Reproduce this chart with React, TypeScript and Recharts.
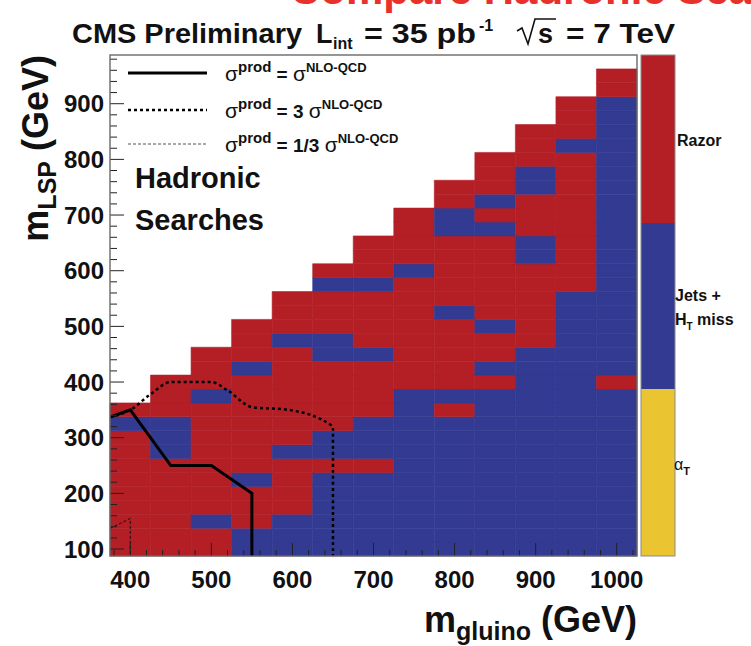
import { ComposedChart, XAxis, YAxis, ReferenceArea, Line } from 'recharts';

// bin centres of the scan
const gluinoMasses = [400, 450, 500, 550, 600, 650, 700, 750, 800, 850, 900, 950, 1000];
const lspMasses = [
  100, 125, 150, 175, 200, 225, 250, 275, 300, 325, 350, 375, 400, 425, 450, 475, 500, 525,
  550, 575, 600, 625, 650, 675, 700, 725, 750, 775, 800, 825, 850, 875, 900, 925, 950,
];

// most sensitive search per bin, one string per gluino column, from m_LSP = 100 upwards
// R = Razor, J = Jets + HT miss
const bestSearch = [
  'RRRRRRRRRJR',
  'RRRRRRRJJJRRR',
  'RRJRRRRRRRRJRRR',
  'JJRRRJRRRRRRRJRRR',
  'JJJRRRRJRRRRRRRJRRR',
  'JJJJJJRJJRRRRRJJRRRJR',
  'JJJJJJRJJJRRRRJRRRRJRRR',
  'JJJJJJJJJJJJRRRRRRRRJRRRR',
  'JJJJJJJJJJRJRRRRRJRRRRRJJRR',
  'JJJJJJJJJJJJRJRRJRRRRRRJRJRRR',
  'JJJJJJJJJJJJJJJRRRRRRJJRRRJJRRR',
  'JJJJJJJJJJJJJJJJJJJRRRRRRRRRRJRRR',
  'JJJJJJJJJJJJRJJJJJJJJJJJJJJJJJJJJRR',
];

// exclusion contours
const nloGluino = [375, 400, 450, 500, 550, 550];
const nloLsp = [337, 350, 250, 250, 200, 87.5];
const threeNloGluino = [375, 400, 425, 450, 500, 520, 550, 595, 650, 650];
const threeNloLsp = [337, 350, 378, 400, 400, 385, 355, 350, 320, 87.5];
const thirdNloGluino = [375, 400, 400];
const thirdNloLsp = [137, 155, 87.5];

const xTicks = Array.from({ length: 33 }, (_, i) => 380 + 20 * i);
const yTicks = Array.from({ length: 45 }, (_, i) => 100 + 20 * i);

const RED = '#b41f26';
const BLUE = '#323a92';
const YELLOW = '#ebc431';
const FONT = '"Liberation Sans", Arial, Helvetica, sans-serif';

const toPoints = (xs: number[], ys: number[]) => xs.map((g, i) => ({ gluino: g, lsp: ys[i] }));

const cells = gluinoMasses.flatMap((g, c) =>
  bestSearch[c].split('').map((s, r) => ({ gluino: g, lsp: lspMasses[r], search: s }))
);

function XTick({ x, y, payload }: any) {
  const major = payload.value % 100 === 0;
  return (
    <g>
      <line x1={x} x2={x} y1={y} y2={y - (major ? 13 : 6)} stroke="#222" strokeWidth={1} />
      {major && (
        <text x={x} y={y + 32} textAnchor="middle" fontSize={24} fontWeight="bold" fontFamily={FONT} fill="#111">
          {payload.value}
        </text>
      )}
    </g>
  );
}

function YTick({ x, y, payload }: any) {
  const major = payload.value % 100 === 0;
  return (
    <g>
      <line x1={x} x2={x + (major ? 14 : 7)} y1={y} y2={y} stroke="#222" strokeWidth={1} />
      {major && (
        <text x={x - 6} y={y + 8.5} textAnchor="end" fontSize={24} fontWeight="bold" fontFamily={FONT} fill="#111">
          {payload.value}
        </text>
      )}
    </g>
  );
}

function Overlay() {
  return (
    <svg
      width={751}
      height={646}
      style={{ position: 'absolute', left: 0, top: 0, pointerEvents: 'none' }}
      fontFamily={FONT}
    >
      {/* slide heading, cut off by the top of the picture */}
      <text x={290} y={4} fontSize={42} fontWeight="bold" fill="#e8302c">
        Compare Hadronic Searches
      </text>

      {/* header */}
      <g fontWeight="bold" fill="#111">
        <text x={72} y={43} fontSize={27} textLength={230} lengthAdjust="spacingAndGlyphs">CMS Preliminary</text>
        <text x={316} y={43} fontSize={27}>L</text>
        <text x={333} y={49} fontSize={16}>int</text>
        <text x={364} y={43} fontSize={27} textLength={112} lengthAdjust="spacingAndGlyphs">= 35 pb</text>
        <text x={479} y={31} fontSize={16}>-1</text>
        <path d="M517 31 L522 28 L528 44 L535 19 L556 19" fill="none" stroke="#111" strokeWidth={1.6} />
        <text x={538} y={43} fontSize={27}>s</text>
        <text x={566} y={43} fontSize={27} textLength={109} lengthAdjust="spacingAndGlyphs">= 7 TeV</text>
      </g>

      {/* frame */}
      <rect x={110} y={55} width={527} height={501} fill="none" stroke="#6a6a6a" strokeWidth={1.4} />

      {/* legend */}
      <line x1={128} x2={207} y1={73} y2={73} stroke="#000" strokeWidth={3} />
      <line x1={128} x2={207} y1={110} y2={110} stroke="#000" strokeWidth={2.5} strokeDasharray="3 3" />
      <line x1={128} x2={207} y1={144} y2={144} stroke="#555" strokeWidth={1} strokeDasharray="3 2" />
      {[
        { y: 81, factor: '' },
        { y: 118, factor: '3 ' },
        { y: 152, factor: '1/3 ' },
      ].map((r) => (
        <text key={r.y} x={225} y={r.y} fill="#111" fontSize={19} fontWeight="bold">
          <tspan fontWeight="normal" fontSize={21}>σ</tspan>
          <tspan dy={-9} fontSize={15}>prod</tspan>
          <tspan dy={9}> = {r.factor}</tspan>
          <tspan fontWeight="normal" fontSize={21}>σ</tspan>
          <tspan dy={-9} fontSize={13}>NLO-QCD</tspan>
        </text>
      ))}
      <text x={135} y={188} fontSize={29} fontWeight="bold" fill="#111">Hadronic</text>
      <text x={135} y={230} fontSize={29} fontWeight="bold" fill="#111">Searches</text>

      {/* palette */}
      <rect x={641} y={55} width={34} height={168} fill={RED} />
      <rect x={641} y={223} width={34} height={166} fill={BLUE} />
      <rect x={641} y={389} width={34} height={167} fill={YELLOW} />
      <rect x={641} y={55} width={34} height={501} fill="none" stroke="#8a8a8a" strokeWidth={1} />
      <g fill="#111" fontSize={16} fontWeight="bold">
        <text x={677} y={146}>Razor</text>
        <text x={675} y={301}>Jets +</text>
        <text x={675} y={325}>
          H<tspan dy={5} fontSize={10}>T</tspan>
          <tspan dy={-5}> miss</tspan>
        </text>
        <text x={674} y={470} fontWeight="normal">
          α<tspan dy={5} fontSize={11} fontWeight="bold">T</tspan>
        </text>
      </g>

      {/* axis titles */}
      <text x={637} y={632} textAnchor="end" fontWeight="bold" fill="#111" fontSize={36}>
        m<tspan dy={8} fontSize={25}>gluino</tspan>
        <tspan dy={-8}> (GeV)</tspan>
      </text>
      <text transform="translate(48,55) rotate(-90)" textAnchor="end" fontWeight="bold" fill="#111" fontSize={36}>
        m<tspan dy={8} fontSize={25}>LSP</tspan>
        <tspan dy={-8}> (GeV)</tspan>
      </text>
    </svg>
  );
}

export default function App() {
  return (
    <div style={{ position: 'absolute', left: 0, top: 0, width: 751, height: 646, background: '#fff' }}>
      <ComposedChart width={751} height={646} margin={{ top: 55, right: 114, bottom: 60, left: 70 }}>
        <XAxis
          type="number"
          dataKey="gluino"
          domain={[375, 1025]}
          allowDataOverflow
          ticks={xTicks}
          interval={0}
          height={30}
          tickSize={0}
          tickMargin={0}
          tickLine={false}
          axisLine={false}
          tick={<XTick />}
        />
        <YAxis
          type="number"
          dataKey="lsp"
          domain={[87.5, 987.5]}
          allowDataOverflow
          ticks={yTicks}
          interval={0}
          width={40}
          tickSize={0}
          tickMargin={0}
          tickLine={false}
          axisLine={false}
          tick={<YTick />}
        />
        {cells.map((c) => {
          const color = c.search === 'R' ? RED : BLUE;
          return (
            <ReferenceArea
              key={`${c.gluino}-${c.lsp}`}
              x1={c.gluino - 25}
              x2={c.gluino + 25}
              y1={c.lsp - 12.5}
              y2={c.lsp + 12.5}
              fill={color}
              fillOpacity={1}
              stroke={color}
              strokeWidth={0.6}
            />
          );
        })}
        <Line
          data={toPoints(thirdNloGluino, thirdNloLsp)}
          dataKey="lsp"
          type="linear"
          stroke="#111"
          strokeWidth={1}
          strokeDasharray="3 2"
          dot={false}
          isAnimationActive={false}
        />
        <Line
          data={toPoints(threeNloGluino, threeNloLsp)}
          dataKey="lsp"
          type="monotone"
          stroke="#000"
          strokeWidth={2.5}
          strokeDasharray="3 3"
          dot={false}
          isAnimationActive={false}
        />
        <Line
          data={toPoints(nloGluino, nloLsp)}
          dataKey="lsp"
          type="linear"
          stroke="#000"
          strokeWidth={3}
          dot={false}
          isAnimationActive={false}
        />
      </ComposedChart>
      <Overlay />
    </div>
  );
}
